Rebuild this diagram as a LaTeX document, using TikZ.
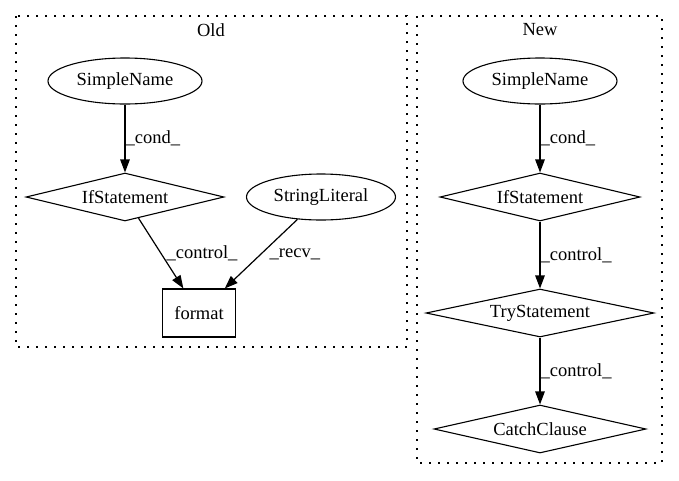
\documentclass[tikz,border=0pt]{standalone}
\usepackage{fontspec}
\setmainfont{Liberation Serif}
\usetikzlibrary{arrows.meta, shapes.geometric}

\tikzset{
  gv/.style={font=\fontsize{18.5}{22}\selectfont, line width=1.1pt},
  ellnode/.style={ellipse, draw, inner sep=0pt, minimum width=154pt, minimum height=46pt},
  dianode/.style={diamond, draw, inner sep=0pt, aspect=4, minimum height=48pt},
  boxnode/.style={rectangle, draw, inner sep=0pt, minimum width=73pt, minimum height=48pt},
  cluster/.style={draw, line width=1.2pt, dash pattern=on 2pt off 7pt},
  flow/.style={-{Triangle[length=13pt, width=9.5pt]}, line width=1.2pt},
  lbl/.style={anchor=west, inner sep=0pt}
}

\begin{document}
\begin{tikzpicture}[x=1pt, y=-1pt, gv]
  \useasboundingbox (0,0) rectangle (679,480);

  % Old
  \draw[cluster] (16,16) rectangle (407,347);
  \node (oldtitle) at (211,30) {Old};
  \node[ellnode] (osimple) at (125,81) {SimpleName};
  \node[dianode, minimum width=198pt] (oif) at (125,197) {IfStatement};
  \node[ellnode, minimum width=149pt] (ostring) at (321,197) {StringLiteral};
  \node[boxnode] (oformat) at (199,313) {format};

  \draw[flow] (osimple) -- (oif) node[lbl, midway] {\_cond\_};
  \draw[flow] (oif) -- (oformat) node[lbl, midway, xshift=5pt] {\_control\_};
  \draw[flow] (ostring) -- (oformat) node[lbl, midway, xshift=8pt] {\_recv\_};

  % New
  \draw[cluster] (417,16) rectangle (662,463);
  \node (newtitle) at (540,30) {New};
  \node[ellnode] (nsimple) at (540,81) {SimpleName};
  \node[dianode, minimum width=200pt] (nif) at (540,197) {IfStatement};
  \node[dianode, minimum width=228pt] (ntry) at (540,313) {TryStatement};
  \node[dianode, minimum width=212pt] (ncatch) at (540,429) {CatchClause};

  \draw[flow] (nsimple) -- (nif) node[lbl, midway] {\_cond\_};
  \draw[flow] (nif) -- (ntry) node[lbl, midway] {\_control\_};
  \draw[flow] (ntry) -- (ncatch) node[lbl, midway] {\_control\_};
\end{tikzpicture}
\end{document}
